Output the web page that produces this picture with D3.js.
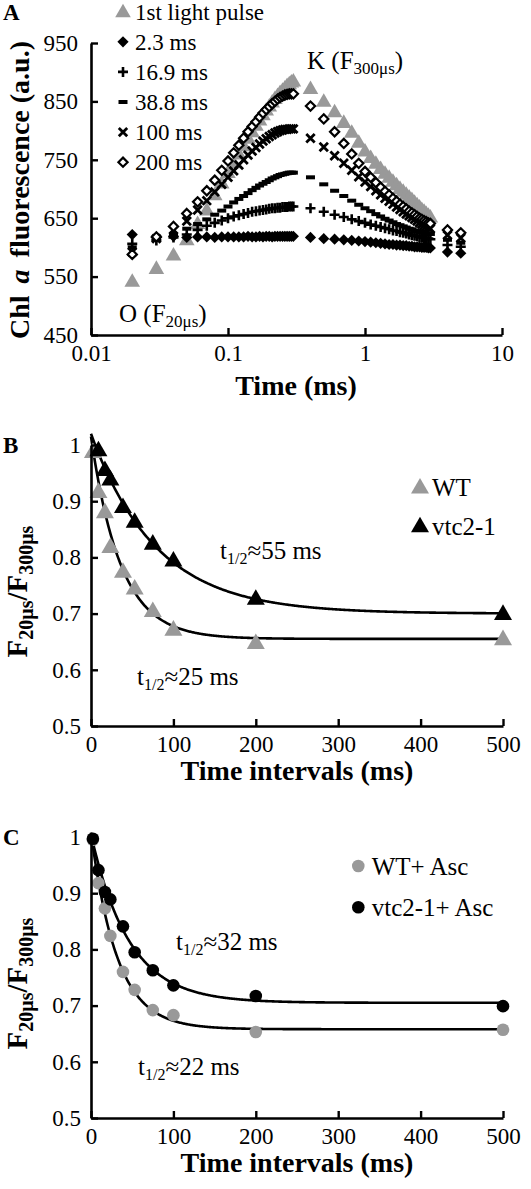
<!DOCTYPE html>
<html><head><meta charset="utf-8">
<script src="https://cdn.jsdelivr.net/npm/d3@7"></script>
<style>
body{margin:0;background:#fff}
svg{display:block}
text{font-family:"Liberation Serif","Times New Roman",serif;fill:#000}
</style>
</head><body>
<svg id="c" width="531" height="1189"></svg>
<script>
// ---------- Panel A data ----------
const timesA = [0.02,0.03,0.04,0.05,0.06,0.07,0.08,0.09,0.10,0.11,0.12,0.13,0.14,0.15,0.16,0.17,0.18,0.19,0.20,0.21,0.22,0.23,0.24,0.25,0.26,0.27,0.28,0.29,0.30,
  0.4,0.5,0.6,0.7,0.8,0.9,1.0,1.1,1.2,1.3,1.4,1.5,1.6,1.7,1.8,1.9,2.0,2.1,2.2,2.3,2.4,2.5,2.6,2.7,2.8,2.9,3.0,4,5];
const pulse1st = [542,564,587,613,641,664,690,710,728,745,760,774,787,798,809,818,827,835,842,849,855,860,865,869,873,877,880,883,885,
  872,850,832,814,797,780,765,754,744,735,727,720,713,707,701,696,691,686,682,677,673,669,665,662,658,655,652,null,null];
const ms2_3 = [622,617,619,617,618,618,617,618,618,618,618,618,619,618,618,619,618,619,619,618,619,619,619,619,619,619,619,619,619,
  617,615,614,613,612,611,610,609,608,607,606,605,605,604,604,603,603,602,602,601,601,601,600,600,600,599,599,592,590];
const ms16_9 = [606,612,617,622,630,637,642,646,650,653,655,657,659,661,662,663,664,665,666,667,667,668,668,669,669,669,670,670,670,
  667,661,656,652,648,645,642,639,637,635,633,631,629,628,626,625,624,622,621,620,619,618,617,616,615,615,614,604,601];
const ms38_8 = [600,613,622,632,640,648,656,663,670,677,683,688,693,698,702,706,709,712,715,718,720,722,724,725,726,727,728,728,728,
  720,708,697,688,680,673,667,662,657,653,649,646,643,640,638,636,634,632,631,629,628,627,626,625,624,624,623,613,608];
const ms100 = [592,615,630,645,664,680,695,708,720,731,741,750,758,765,771,777,782,786,790,793,796,798,800,801,802,802,803,803,803,
  787,772,757,744,732,721,712,704,697,690,684,679,674,669,665,661,657,654,651,648,645,642,640,638,636,634,632,621,616];
const ms200 = [588,618,636,658,678,697,715,732,748,762,775,787,798,807,815,823,830,836,841,846,850,854,857,859,861,862,863,863,863,
  842,820,798,778,760,744,730,720,711,703,696,690,684,679,674,670,666,662,659,656,653,650,648,646,644,642,641,630,625];
const legendA = ["1st light pulse","2.3 ms","16.9 ms","38.8 ms","100 ms","200 ms"];
const ticksAx = [0.01,0.1,1,10];
const ticksAy = [450,550,650,750,850,950];

// ---------- Panels B, C data ----------
const intervals = [2.3, 9, 16.9, 23.5, 38.8, 53, 75, 100, 200, 500];
const wtB  = [0.988,0.917,0.881,0.819,0.775,0.745,0.705,0.672,0.648,0.655];
const vtcB = [null, 0.991,0.956,0.939,0.890,0.864,0.825,0.795,0.727,0.700];
const wtC  = [0.995,0.918,0.873,0.824,0.760,0.728,0.692,0.683,0.653,0.657];
const vtcC = [0.997,0.941,0.902,0.889,0.841,0.795,0.763,0.736,0.717,0.699];
// exponential fits: [asymptote, amplitude, half-time ms]
const fitWtB  = [0.655, 0.36, 25];
const fitVtcB = [0.700, 0.32, 55];
const fitWtC  = [0.658, 0.35, 22];
const fitVtcC = [0.705, 0.30, 32];
const ticksBx = [0,100,200,300,400,500];
const ticksBy = [0.5,0.6,0.7,0.8,0.9,1];

const GRAY = "#999999";
const svg = d3.select("#c");

function styleAxis(g){
  g.select(".domain").attr("stroke","#000").attr("stroke-width",2.6);
  g.selectAll(".tick line").attr("stroke","#000").attr("stroke-width",2.4);
  g.selectAll(".tick text").attr("font-size",23).attr("font-family","Liberation Serif");
}

// ===== Panel A =====
const xA = d3.scaleLog().domain([0.01,10]).range([91,502]);
const yA = d3.scaleLinear().domain([450,950]).range([335,43]);
const gA = svg.append("g");

const triPath = (s)=>`M0,${-s*0.62}L${s*0.6},${s*0.42}L${-s*0.6},${s*0.42}Z`;
const diaPath = (r)=>`M0,${-r}L${r},0L0,${r}L${-r},0Z`;

function pts(arr){ return timesA.map((t,i)=>({t, v:arr[i]})).filter(d=>d.v!=null); }

function drawMarker(g, type, x, y){
  if(type==="tri") g.append("path").attr("d",triPath(13)).attr("transform",`translate(${x},${y})`).attr("fill",GRAY);
  else if(type==="dia") g.append("path").attr("d",diaPath(5.6)).attr("transform",`translate(${x},${y})`).attr("fill","#000");
  else if(type==="plus") g.append("path").attr("d","M-5,0H5M0,-5V5").attr("transform",`translate(${x},${y})`).attr("stroke","#000").attr("stroke-width",2.6).attr("fill","none");
  else if(type==="dash") g.append("rect").attr("x",x-4.5).attr("y",y-2).attr("width",9).attr("height",4).attr("fill","#000");
  else if(type==="cross") g.append("path").attr("d","M-4.2,-4.2L4.2,4.2M-4.2,4.2L4.2,-4.2").attr("transform",`translate(${x},${y})`).attr("stroke","#000").attr("stroke-width",2.8).attr("fill","none");
  else if(type==="odia") g.append("path").attr("d",diaPath(4.6)).attr("transform",`translate(${x},${y})`).attr("fill","#fff").attr("stroke","#000").attr("stroke-width",2.2);
}

const seriesA = [
  {data:pulse1st, type:"tri"},
  {data:ms2_3, type:"dia"},
  {data:ms16_9, type:"plus"},
  {data:ms38_8, type:"dash"},
  {data:ms100, type:"cross"},
  {data:ms200, type:"odia"}
];
seriesA.forEach(s=>{
  const g = gA.append("g");
  pts(s.data).forEach(d=>drawMarker(g, s.type, xA(d.t), yA(d.v)));
});

const axAx = gA.append("g").attr("transform","translate(0,335)")
  .call(d3.axisBottom(xA).tickValues(ticksAx).tickFormat(d=>String(d)).tickSize(-7).tickSizeOuter(0).tickPadding(10));
styleAxis(axAx);
const axAy = gA.append("g").attr("transform","translate(91,0)")
  .call(d3.axisLeft(yA).tickValues(ticksAy).tickSize(-7).tickSizeOuter(0).tickPadding(13));
styleAxis(axAy);

// legend A
legendA.forEach((lab,i)=>{
  const cy = 11.7 + i*30.1;
  drawMarker(gA, seriesA[i].type, 123, cy);
  gA.append("text").attr("x",135).attr("y",cy+7.8).attr("font-size",23).text(lab);
});
// K and O labels
const kT = gA.append("text").attr("x",307).attr("y",69).attr("font-size",25);
kT.append("tspan").text("K (F");
kT.append("tspan").attr("font-size",17).attr("dy",5).text("300μs");
kT.append("tspan").attr("dy",-5).text(")");
const oT = gA.append("text").attr("x",119).attr("y",322).attr("font-size",25);
oT.append("tspan").text("O (F");
oT.append("tspan").attr("font-size",17).attr("dy",5).text("20μs");
oT.append("tspan").attr("dy",-5).text(")");
// axis titles A
gA.append("text").attr("x",296).attr("y",395).attr("text-anchor","middle").attr("font-size",28).attr("font-weight","bold").text("Time (ms)");
const yTA = gA.append("text").attr("transform","translate(29,190) rotate(-90)").attr("text-anchor","middle").attr("font-size",28).attr("font-weight","bold");
yTA.append("tspan").text("Chl ");
yTA.append("tspan").attr("font-style","italic").attr("dx",5).text("a");
yTA.append("tspan").attr("dx",5).text(" fluorescence (a.u.)");
gA.append("text").attr("x",3).attr("y",20).attr("font-size",23).attr("font-weight","bold").text("A");

// ===== Panels B & C =====
function panel(opts){
  const {top, bottom, label, wt, vtc, fitWt, fitVtc, marker, legend, ann1, ann2} = opts;
  const x = d3.scaleLinear().domain([0,500]).range([91,503]);
  const y = d3.scaleLinear().domain([0.5,1]).range([bottom, top]);
  const g = svg.append("g");
  const line = d3.line().x(d=>x(d[0])).y(d=>y(d[1]));
  const tt = d3.range(0,501,1);
  [fitWt, fitVtc].forEach(f=>{
    const k = Math.LN2/f[2];
    g.append("path").datum(tt.map(t=>[t, f[0]+f[1]*Math.exp(-k*t)]))
      .attr("d",line).attr("fill","none").attr("stroke","#000").attr("stroke-width",2.6);
  });
  const mk = (gg, cx, cy, col)=>{
    if(marker==="tri") gg.append("path").attr("d",triPath(15)).attr("transform",`translate(${cx},${cy})`).attr("fill",col);
    else gg.append("circle").attr("cx",cx).attr("cy",cy).attr("r",6.3).attr("fill",col);
  };
  intervals.forEach((t,i)=>{ if(wt[i]!=null) mk(g, x(t), y(wt[i]), GRAY); });
  intervals.forEach((t,i)=>{ if(vtc[i]!=null) mk(g, x(t), y(vtc[i]), "#000"); });

  const ax = g.append("g").attr("transform",`translate(0,${bottom})`)
    .call(d3.axisBottom(x).tickValues(ticksBx).tickSize(-7).tickSizeOuter(0).tickPadding(10));
  styleAxis(ax);
  const ay = g.append("g").attr("transform","translate(91,0)")
    .call(d3.axisLeft(y).tickValues(ticksBy).tickFormat(d=>String(d)).tickSize(-7).tickSizeOuter(0).tickPadding(10));
  styleAxis(ay);

  // legend
  legend.forEach((lab,i)=>{
    const cy = legend.y0 + i*legend.dy;
    mk(g, legend.mx, cy, i===0?GRAY:"#000");
    g.append("text").attr("x",legend.tx).attr("y",cy+8.5).attr("font-size",25).text(lab);
  });
  // annotations
  [ann1, ann2].forEach(a=>{
    const t = g.append("text").attr("x",a.x).attr("y",a.y).attr("font-size",25);
    t.append("tspan").text("t");
    t.append("tspan").attr("font-size",16).attr("dy",5).text("1/2");
    t.append("tspan").attr("dy",-5).text("≈" + a.v + " ms");
  });
  // titles
  g.append("text").attr("x",297).attr("y",bottom+54).attr("text-anchor","middle").attr("font-size",28).attr("font-weight","bold").text("Time intervals (ms)");
  const yt = g.append("text").attr("transform",`translate(27,${(top+bottom)/2+6}) rotate(-90)`).attr("text-anchor","middle").attr("font-size",29).attr("font-weight","bold");
  yt.append("tspan").text("F");
  yt.append("tspan").attr("font-size",20).attr("dy",6).text("20μs");
  yt.append("tspan").attr("dy",-6).text("/F");
  yt.append("tspan").attr("font-size",20).attr("dy",6).text("300μs");
  g.append("text").attr("x",3).attr("y",top+8).attr("font-size",23).attr("font-weight","bold").text(label);
}

const legB = ["WT","vtc2-1"]; legB.y0 = 487.3; legB.dy = 38.7; legB.mx = 420; legB.tx = 432;
panel({top:445, bottom:726, label:"B", wt:wtB, vtc:vtcB, fitWt:fitWtB, fitVtc:fitVtcB, marker:"tri",
  legend:legB, ann1:{x:220,y:559,v:"55"}, ann2:{x:137,y:685,v:"25"}});
const legC = ["WT+ Asc","vtc2-1+ Asc"]; legC.y0 = 866; legC.dy = 41.3; legC.mx = 358.3; legC.tx = 371.7;
panel({top:837, bottom:1118, label:"C", wt:wtC, vtc:vtcC, fitWt:fitWtC, fitVtc:fitVtcC, marker:"circle",
  legend:legC, ann1:{x:176,y:950,v:"32"}, ann2:{x:138,y:1075,v:"22"}});
</script>
</body></html>
